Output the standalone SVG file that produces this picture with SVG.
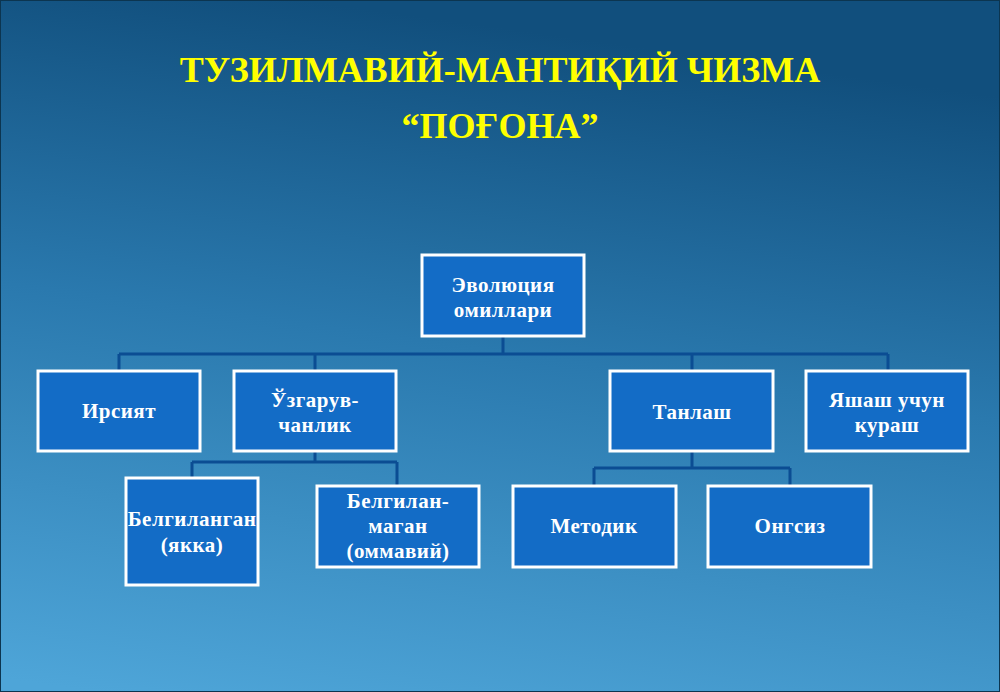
<svg xmlns="http://www.w3.org/2000/svg" width="1000" height="692" viewBox="0 0 1000 692">
<defs>
<linearGradient id="bg" x1="0.3" y1="0" x2="0.1" y2="1">
<stop offset="0" stop-color="#114f7d"/>
<stop offset="0.45" stop-color="#2a79ae"/>
<stop offset="1" stop-color="#4ea5d8"/>
</linearGradient>
<style>
.box{fill:#136cc6;stroke:#ffffff;stroke-width:3}
.lbl{font-weight:bold;font-size:21px;letter-spacing:0.5px;fill:#ffffff;text-anchor:middle}
.ttl{font-weight:bold;font-size:36px;fill:#ffff00;text-anchor:middle}
.con{fill:none;stroke:#0b4d93;stroke-width:3}
</style>
</defs>
<rect x="0" y="0" width="1000" height="692" fill="url(#bg)"/>
<rect x="0.5" y="0.5" width="999" height="691" fill="none" stroke="#0c3550" stroke-width="1"/>
<g id="title" font-family="'Liberation Serif', 'DejaVu Serif', serif">
<text class="ttl" x="500" y="82">ТУЗИЛМАВИЙ-МАНТИҚИЙ ЧИЗМА</text>
<text class="ttl" x="500" y="138">“ПОҒОНА”</text>
</g>
<g id="connectors">
<path class="con" d="M503 336V354M119 354H888M119 354V371M315 354V371M692 354V371M888 354V371"/>
<path class="con" d="M315 451V462M192 462H397M192 462V478M397 462V486"/>
<path class="con" d="M692 451V468M594 468H790M594 468V486M790 468V486"/>
</g>
<g font-family="'Liberation Serif', 'DejaVu Serif', serif">
<g id="n-evolution">
<rect class="box" x="422" y="255" width="162" height="81"/>
<text class="lbl" x="503" y="292">Эволюция</text>
<text class="lbl" x="503" y="317">омиллари</text>
</g>
<g id="n-irsiyat">
<rect class="box" x="38" y="371" width="162" height="80"/>
<text class="lbl" x="119" y="418">Ирсият</text>
</g>
<g id="n-uzgaruv">
<rect class="box" x="234" y="371" width="162" height="80"/>
<text class="lbl" x="315" y="407">Ўзгарув-</text>
<text class="lbl" x="315" y="432">чанлик</text>
</g>
<g id="n-tanlash">
<rect class="box" x="610" y="371" width="163" height="80"/>
<text class="lbl" x="692" y="419">Танлаш</text>
</g>
<g id="n-yashash">
<rect class="box" x="806" y="371" width="162" height="80"/>
<text class="lbl" x="887" y="407">Яшаш учун</text>
<text class="lbl" x="887" y="432">кураш</text>
</g>
<g id="n-belgilangan">
<rect class="box" x="126" y="478" width="132" height="107"/>
<text class="lbl" x="192" y="526">Белгиланган</text>
<text class="lbl" x="192" y="552">(якка)</text>
</g>
<g id="n-belgilanmagan">
<rect class="box" x="317" y="486" width="162" height="81"/>
<text class="lbl" x="398" y="508">Белгилан-</text>
<text class="lbl" x="398" y="533">маган</text>
<text class="lbl" x="398" y="558">(оммавий)</text>
</g>
<g id="n-metodik">
<rect class="box" x="513" y="486" width="163" height="81"/>
<text class="lbl" x="594" y="533">Методик</text>
</g>
<g id="n-ongsiz">
<rect class="box" x="708" y="486" width="163" height="81"/>
<text class="lbl" x="790" y="533">Онгсиз</text>
</g>
</g>
</svg>
